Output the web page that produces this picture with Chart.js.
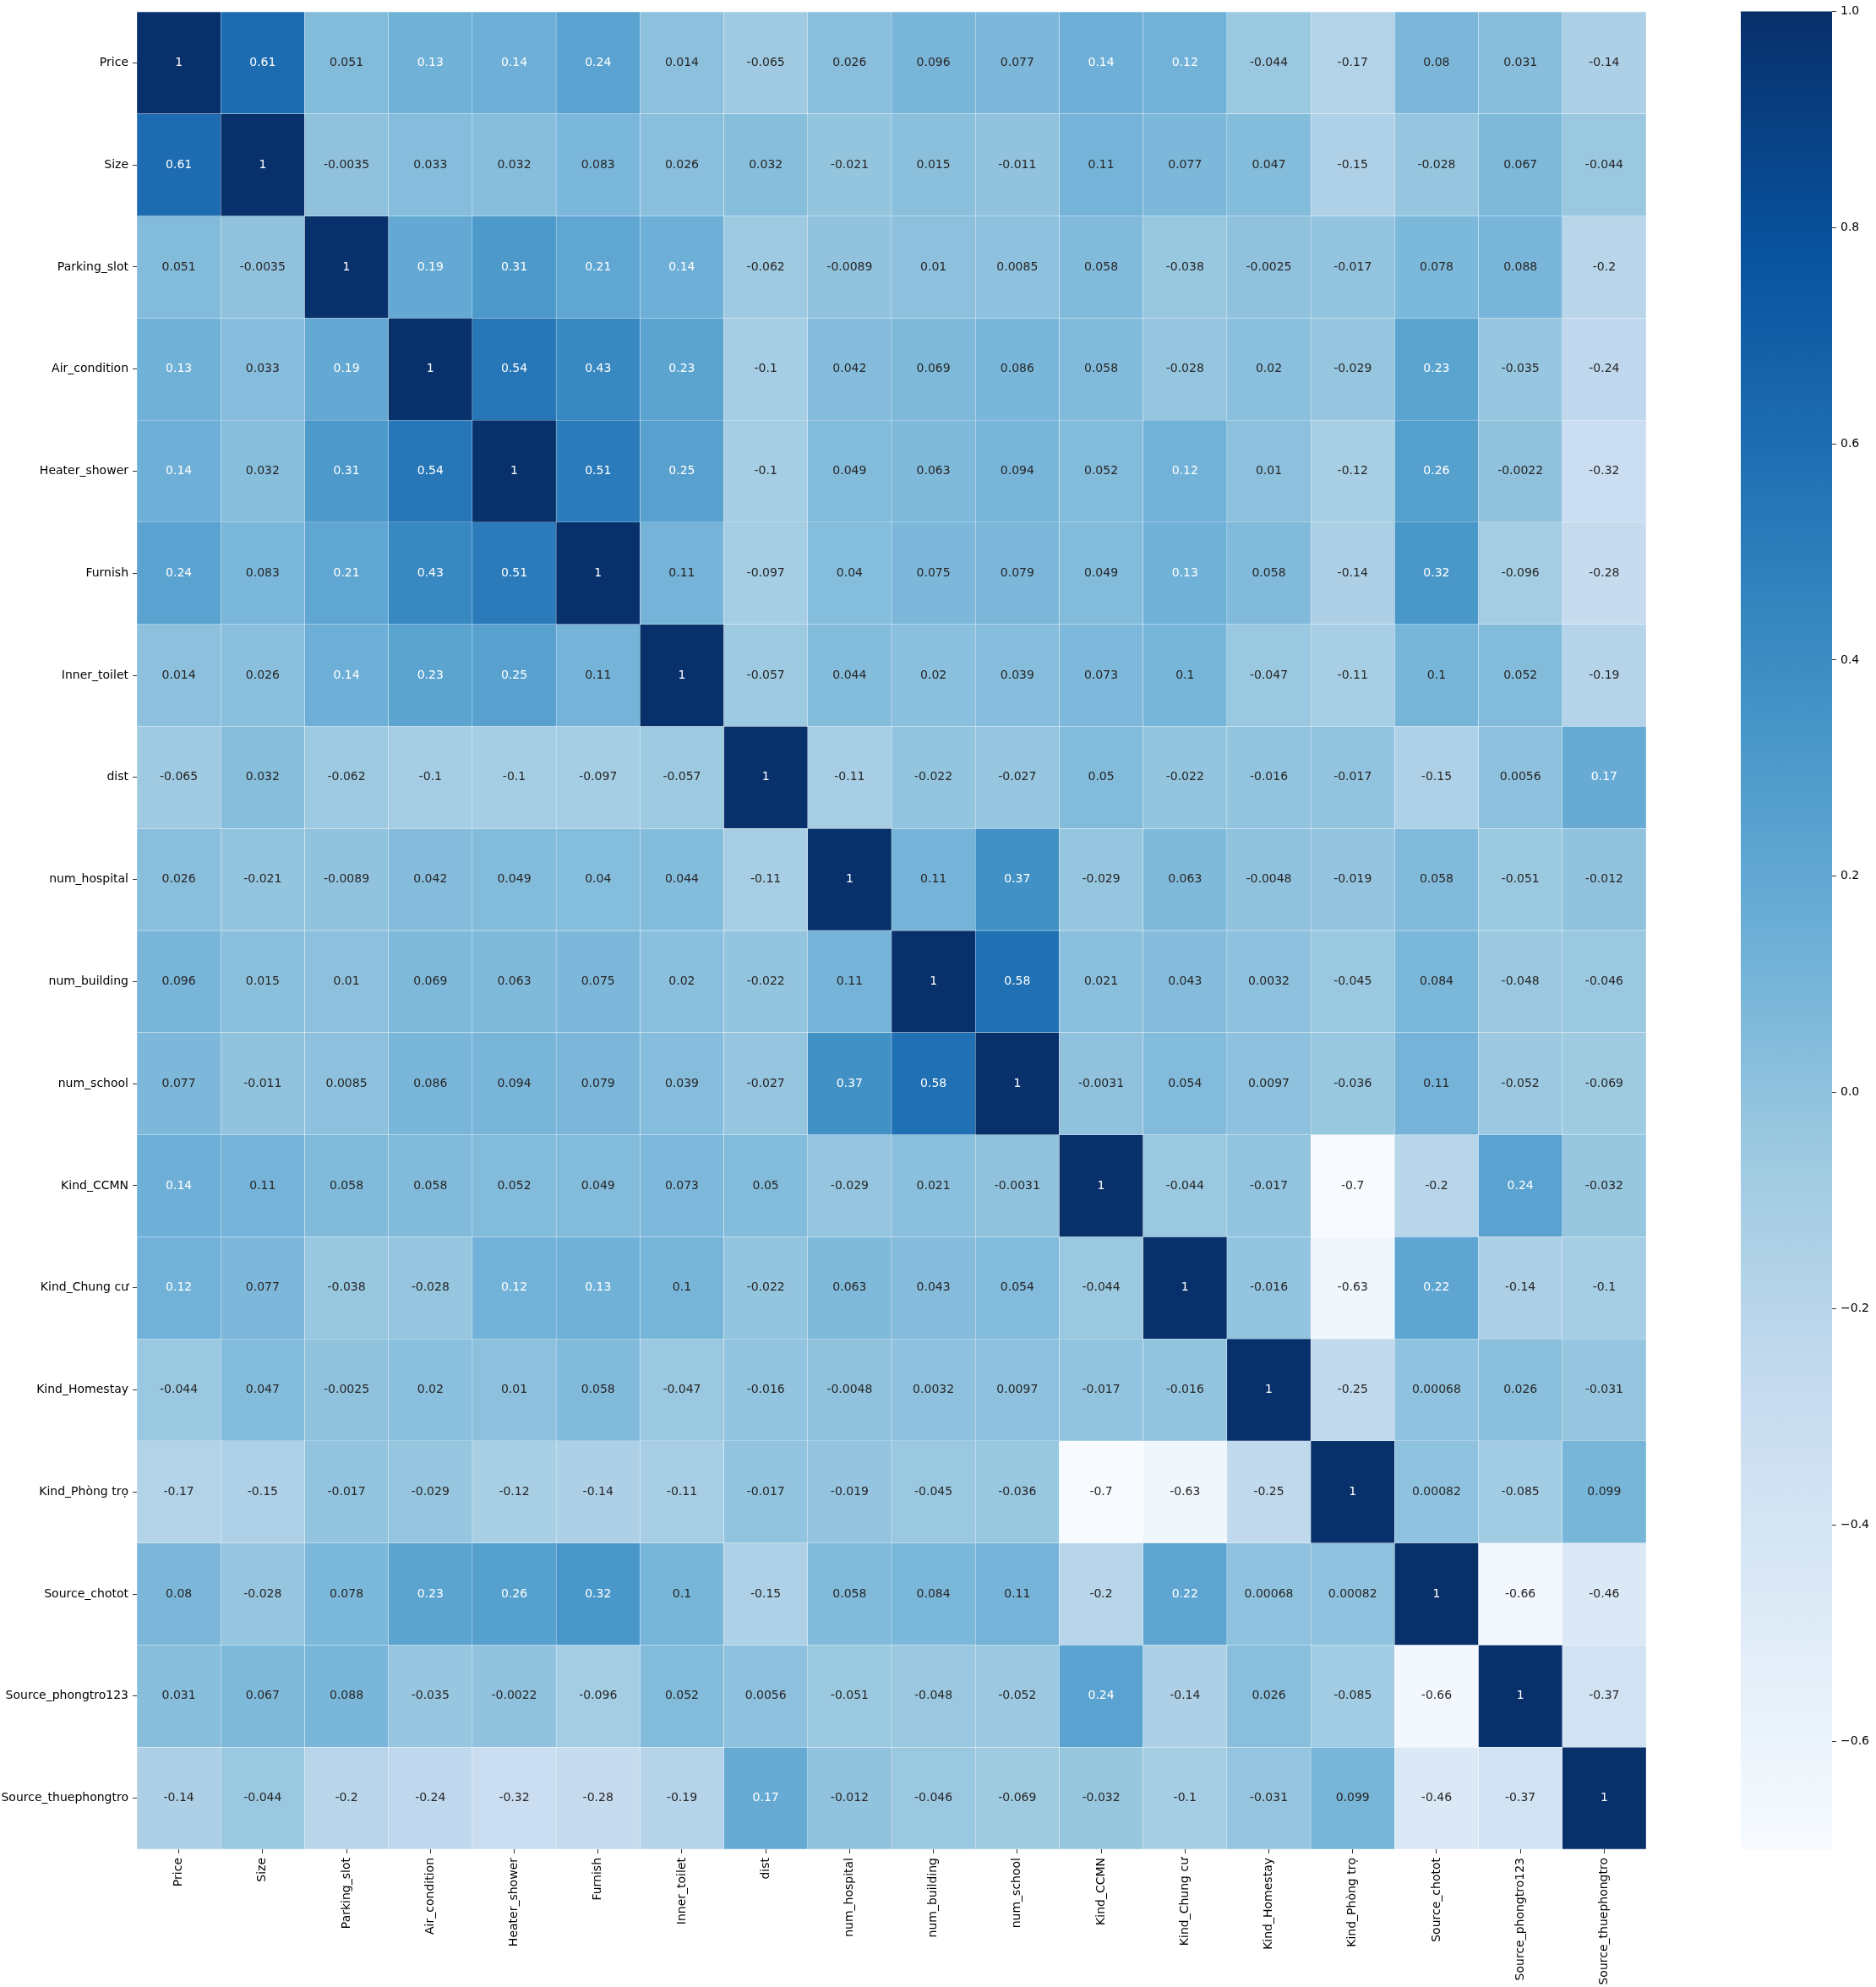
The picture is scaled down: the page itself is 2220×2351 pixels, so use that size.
<!DOCTYPE html>
<html><head><meta charset="utf-8">
<script src="https://cdn.jsdelivr.net/npm/chart.js@4.4.0/dist/chart.umd.min.js"></script>
<style>
html,body{margin:0;padding:0;background:#fff;overflow:hidden;}
#wrap{position:relative;width:2220px;height:2351px;background:#fff;}
#main{position:absolute;left:0;top:0;width:2220px;height:2351px;}
#cbar{position:absolute;left:2060px;top:0;width:160px;height:2351px;}
</style></head><body>
<div id="wrap"><canvas id="main" width="2220" height="2351"></canvas><canvas id="cbar" width="160" height="2351"></canvas></div>
<script>
const labels = ["Price","Size","Parking_slot","Air_condition","Heater_shower","Furnish","Inner_toilet","dist","num_hospital","num_building","num_school","Kind_CCMN","Kind_Chung cư","Kind_Homestay","Kind_Phòng trọ","Source_chotot","Source_phongtro123","Source_thuephongtro"];

const rowPrice        = [1, 0.61, 0.051, 0.13, 0.14, 0.24, 0.014, -0.065, 0.026, 0.096, 0.077, 0.14, 0.12, -0.044, -0.17, 0.08, 0.031, -0.14];
const rowSize         = [0.61, 1, -0.0035, 0.033, 0.032, 0.083, 0.026, 0.032, -0.021, 0.015, -0.011, 0.11, 0.077, 0.047, -0.15, -0.028, 0.067, -0.044];
const rowParking      = [0.051, -0.0035, 1, 0.19, 0.31, 0.21, 0.14, -0.062, -0.0089, 0.01, 0.0085, 0.058, -0.038, -0.0025, -0.017, 0.078, 0.088, -0.2];
const rowAir          = [0.13, 0.033, 0.19, 1, 0.54, 0.43, 0.23, -0.1, 0.042, 0.069, 0.086, 0.058, -0.028, 0.02, -0.029, 0.23, -0.035, -0.24];
const rowHeater       = [0.14, 0.032, 0.31, 0.54, 1, 0.51, 0.25, -0.1, 0.049, 0.063, 0.094, 0.052, 0.12, 0.01, -0.12, 0.26, -0.0022, -0.32];
const rowFurnish      = [0.24, 0.083, 0.21, 0.43, 0.51, 1, 0.11, -0.097, 0.04, 0.075, 0.079, 0.049, 0.13, 0.058, -0.14, 0.32, -0.096, -0.28];
const rowToilet       = [0.014, 0.026, 0.14, 0.23, 0.25, 0.11, 1, -0.057, 0.044, 0.02, 0.039, 0.073, 0.1, -0.047, -0.11, 0.1, 0.052, -0.19];
const rowDist         = [-0.065, 0.032, -0.062, -0.1, -0.1, -0.097, -0.057, 1, -0.11, -0.022, -0.027, 0.05, -0.022, -0.016, -0.017, -0.15, 0.0056, 0.17];
const rowHospital     = [0.026, -0.021, -0.0089, 0.042, 0.049, 0.04, 0.044, -0.11, 1, 0.11, 0.37, -0.029, 0.063, -0.0048, -0.019, 0.058, -0.051, -0.012];
const rowBuilding     = [0.096, 0.015, 0.01, 0.069, 0.063, 0.075, 0.02, -0.022, 0.11, 1, 0.58, 0.021, 0.043, 0.0032, -0.045, 0.084, -0.048, -0.046];
const rowSchool       = [0.077, -0.011, 0.0085, 0.086, 0.094, 0.079, 0.039, -0.027, 0.37, 0.58, 1, -0.0031, 0.054, 0.0097, -0.036, 0.11, -0.052, -0.069];
const rowCCMN         = [0.14, 0.11, 0.058, 0.058, 0.052, 0.049, 0.073, 0.05, -0.029, 0.021, -0.0031, 1, -0.044, -0.017, -0.7, -0.2, 0.24, -0.032];
const rowChungCu      = [0.12, 0.077, -0.038, -0.028, 0.12, 0.13, 0.1, -0.022, 0.063, 0.043, 0.054, -0.044, 1, -0.016, -0.63, 0.22, -0.14, -0.1];
const rowHomestay     = [-0.044, 0.047, -0.0025, 0.02, 0.01, 0.058, -0.047, -0.016, -0.0048, 0.0032, 0.0097, -0.017, -0.016, 1, -0.25, 0.00068, 0.026, -0.031];
const rowPhongTro     = [-0.17, -0.15, -0.017, -0.029, -0.12, -0.14, -0.11, -0.017, -0.019, -0.045, -0.036, -0.7, -0.63, -0.25, 1, 0.00082, -0.085, 0.099];
const rowChotot       = [0.08, -0.028, 0.078, 0.23, 0.26, 0.32, 0.1, -0.15, 0.058, 0.084, 0.11, -0.2, 0.22, 0.00068, 0.00082, 1, -0.66, -0.46];
const rowPhongtro123  = [0.031, 0.067, 0.088, -0.035, -0.0022, -0.096, 0.052, 0.0056, -0.051, -0.048, -0.052, 0.24, -0.14, 0.026, -0.085, -0.66, 1, -0.37];
const rowThuephongtro = [-0.14, -0.044, -0.2, -0.24, -0.32, -0.28, -0.19, 0.17, -0.012, -0.046, -0.069, -0.032, -0.1, -0.031, 0.099, -0.46, -0.37, 1];

const colorbarTicks = [-0.6, -0.4, -0.2, 0.0, 0.2, 0.4, 0.6, 0.8, 1.0];
const vmin = -0.7, vmax = 1.0;

const matrix = [rowPrice,rowSize,rowParking,rowAir,rowHeater,rowFurnish,rowToilet,rowDist,rowHospital,rowBuilding,rowSchool,rowCCMN,rowChungCu,rowHomestay,rowPhongTro,rowChotot,rowPhongtro123,rowThuephongtro];

// matplotlib "Blues"
const blues = [[247,251,255],[222,235,247],[198,219,239],[158,202,225],[107,174,214],[66,146,198],[33,113,181],[8,81,156],[8,48,107]];
function cmapRGB(v){
  let t = (v - vmin) / (vmax - vmin);
  t = Math.max(0, Math.min(1, t));
  const p = t * 8; let i = Math.floor(p); if (i >= 8) i = 7;
  const f = p - i; const a = blues[i], b = blues[i+1];
  return [0,1,2].map(k => a[k] + (b[k]-a[k]) * f);
}
function cmap(v){ const c = cmapRGB(v); return `rgb(${c[0].toFixed(1)},${c[1].toFixed(1)},${c[2].toFixed(1)})`; }
function lum(v){
  const c = cmapRGB(v).map(x => { x /= 255; return x <= 0.03928 ? x/12.92 : Math.pow((x+0.055)/1.055, 2.4); });
  return 0.2126*c[0] + 0.7152*c[1] + 0.0722*c[2];
}
function fmt(v){ return String(Number(v.toPrecision(2))); }

const FONT = '"DejaVu Sans", "Noto Sans", sans-serif';

const datasets = matrix.map((row, r) => ({
  label: labels[r],
  data: row.map(() => [r, r + 1]),
  backgroundColor: row.map(v => cmap(v)),
  borderColor: 'rgba(255,255,255,0.12)',
  borderWidth: 0.5,
  borderSkipped: false,
  barPercentage: 1.0,
  categoryPercentage: 1.0,
  grouped: false
}));

const annotPlugin = {
  id: 'annot',
  afterDatasetsDraw(chart){
    const ctx = chart.ctx, xs = chart.scales.x, ys = chart.scales.y;
    ctx.save();
    ctx.font = '14px ' + FONT;
    ctx.textAlign = 'center';
    ctx.textBaseline = 'middle';
    matrix.forEach((row, r) => row.forEach((v, c) => {
      ctx.fillStyle = lum(v) > 0.408 ? '#262626' : '#ffffff';
      ctx.fillText(fmt(v), xs.getPixelForValue(c), ys.getPixelForValue(r + 0.5));
    }));
    ctx.restore();
  }
};

new Chart(document.getElementById('main'), {
  type: 'bar',
  data: { labels: labels, datasets: datasets },
  options: {
    responsive: false, animation: false, devicePixelRatio: 1,
    layout: { padding: { left: 0, top: 14, right: 272, bottom: 0 } },
    plugins: { legend: { display: false }, tooltip: { enabled: false } },
    scales: {
      x: {
        type: 'category', offset: true,
        grid: { display: true, drawOnChartArea: false, drawTicks: true, tickLength: 5, color: '#333', offset: false },
        border: { display: false },
        ticks: { autoSkip: false, minRotation: 90, maxRotation: 90, padding: 5, color: '#000', font: { family: FONT, size: 14 } },
        afterFit(s){ s.height = 163; }
      },
      y: {
        type: 'linear', min: 0, max: 18, reverse: true,
        grid: { display: true, drawOnChartArea: false, drawTicks: true, tickLength: 5, color: '#333' },
        border: { display: false },
        afterBuildTicks(s){ s.ticks = labels.map((_, i) => ({ value: i + 0.5 })); },
        ticks: { autoSkip: false, padding: 5, color: '#000', font: { family: FONT, size: 14 },
          callback(v){ return labels[Math.floor(v)]; } },
        afterFit(s){ s.width = 162; }
      }
    }
  },
  plugins: [annotPlugin]
});

// colorbar
new Chart(document.getElementById('cbar'), {
  type: 'bar',
  data: { labels: ['cb'], datasets: [{
    data: [[vmin, vmax]],
    backgroundColor(ctx){
      const chart = ctx.chart; if (!chart.chartArea) return '#fff';
      const ys = chart.scales.y;
      const g = chart.ctx.createLinearGradient(0, ys.getPixelForValue(vmin), 0, ys.getPixelForValue(vmax));
      blues.forEach((c, i) => g.addColorStop(i / 8, `rgb(${c[0]},${c[1]},${c[2]})`));
      return g;
    },
    borderWidth: 0, barPercentage: 1.0, categoryPercentage: 1.0
  }]},
  options: {
    responsive: false, animation: false, devicePixelRatio: 1,
    layout: { padding: { left: 0, top: 13, right: 0, bottom: 163 } },
    plugins: { legend: { display: false }, tooltip: { enabled: false } },
    scales: {
      x: { display: false, offset: true },
      y: {
        type: 'linear', position: 'right', min: vmin, max: vmax,
        grid: { display: true, drawOnChartArea: false, drawTicks: true, tickLength: 5, color: '#333' },
        border: { display: false },
        afterBuildTicks(s){ s.ticks = colorbarTicks.map(v => ({ value: v })); },
        ticks: { padding: 5, color: '#000', font: { family: FONT, size: 14 },
          callback(v){ const s = Math.abs(v).toFixed(1); return v < -1e-9 ? '\u2212' + s : s; } },
        afterFit(s){ s.width = 52; }
      }
    }
  }
});
</script>
</body></html>
